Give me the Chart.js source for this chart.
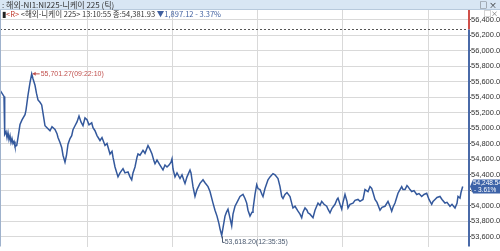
<!DOCTYPE html>
<html>
<head>
<meta charset="utf-8">
<script src="https://cdn.jsdelivr.net/npm/chart.js@4/dist/chart.umd.min.js"></script>
<style>
	body { margin: 0; background: #fff; }
	#wrap { position: relative; width: 500px; height: 251px; overflow: hidden; font-family: "Noto Sans CJK KR", "Liberation Sans", sans-serif; }
	#bar { position: absolute; left: 0; top: 0; width: 500px; height: 9px; background: #d8e6f4; border-bottom: 1px solid #b7c9dc; font-size: 8px; line-height: 9px; color: #333; }
	#bar .t { position: absolute; left: 2px; top: 0; white-space: nowrap; }
	#bar .i { position: absolute; right: 3px; top: 0; font-size: 8px; color: #222; }
	#info { position: absolute; left: 2px; top: 9px; font-size: 7.5px; line-height: 9px; white-space: nowrap; color: #333; }
	#info .r { color: #c0392b; }
	#info .b { color: #3f5f9f; }
	#sub { position: absolute; right: 2px; top: 9px; font-size: 7px; line-height: 8px; color: #666; }
	canvas { position: absolute; left: 0; top: 0; }
</style>
</head>
<body>
<div id="wrap">
	<canvas id="cntx_nikkei" width="500" height="251"></canvas>
	<div id="bar"><span class="t">: 해외-NI1:NI225-니케이 225 (틱)</span><span class="i">□ ×</span></div>
	<div id="info"><span style="color:#222">▮</span><span class="r">&lt;R&gt;</span> &lt;해외-니케이 225&gt; 13:10:55 종:54,381.93 <span class="b">▼1,897.12 - 3.37%</span></div>
	<div id="sub">□×</div>
</div>
<script>
// tick sequence (x) and price (y)
const tickNo = [
	0, 4, 4.7, 6, 7, 8, 9, 10, 11, 12, 13, 14, 15, 16.7, 18, 20, 22, 25, 26, 28, 30, 31.7,
	33, 35, 36.5, 38, 40, 41.7, 43, 45, 47, 50, 52, 55, 57, 58, 60, 61.7, 63, 65, 66.5, 68,
	70, 71.7, 73, 75, 77, 79, 81, 83, 85, 87, 89, 91.7, 93,
	95, 97, 100, 102, 105, 107, 110, 112, 113, 115, 118, 120, 123, 125, 128, 130, 131.7, 133,
	135, 137, 138, 140, 143, 145, 148, 150, 152, 154, 155, 157, 160, 163, 165, 167, 169, 171,
	172, 173, 175, 177, 180, 182, 184, 185, 187, 190,
	191, 193, 195, 197, 200, 203, 205, 208, 210, 213, 215, 217, 219, 220, 221.7, 223, 225,
	226.5, 228, 230, 231.7, 233, 235, 237, 240, 243, 245, 246.7, 248, 250, 252, 253, 255,
	256.7, 258, 260, 262, 263, 265, 268, 270, 273, 275, 278, 280, 281.7, 283, 285,
	287, 290, 292, 293, 295, 298, 300, 301.7, 303, 305, 307, 308, 310, 313, 315, 318, 320,
	321.7, 324, 326.7, 328, 330, 332, 335, 337, 338, 340, 341.7, 343, 345, 347, 348, 350,
	353, 355, 358, 360, 363, 365, 368, 370, 371.7, 373, 375, 377, 380,
	382, 385, 388, 390, 391.7, 393, 395, 397, 398, 400, 401.7, 403, 405, 407, 408, 410,
	411.7, 414, 416.7, 419, 421.7, 424, 426.7, 429, 431.7, 433, 435, 437, 440, 442, 445,
	447, 450, 452, 455, 457, 458, 460, 461, 462.7
];
const price = [
	55491, 55411, 54922, 54956, 54880, 54943, 54854, 54905, 54816, 54867, 54804, 54829, 54766, 54778, 54880, 55048, 55108, 55175, 55234, 55428, 55589, 55701.27,
	55639, 55554, 55449, 55365, 55335, 55301, 55196, 55032, 55006, 54968, 55019, 54985, 54930, 54880, 54816, 54753, 54652, 54563, 54652, 54795,
	54867, 54905, 54981, 55032, 55082, 55158, 55082, 55032, 55133, 55111, 55044, 55070, 55006,
	54968, 54905, 54842, 54880, 54778, 54804, 54668, 54703, 54627, 54500, 54373, 54424, 54479, 54424, 54437, 54373, 54335, 54424,
	54500, 54627, 54668, 54652, 54715, 54677, 54778, 54728, 54668, 54576, 54542, 54589, 54525, 54462, 54525, 54500, 54525, 54563,
	54605, 54475, 54373, 54424, 54352, 54399, 54323, 54289, 54373, 54462,
	54424, 54247, 54120, 54209, 54289, 54335, 54297, 54247, 54184, 54035, 53943, 53867, 53766, 53703, 53618.2, 53715, 53867,
	53918, 53956, 53842, 53741, 53892, 53994, 54044, 54120, 54146, 54095, 54035, 53943, 53867, 53918, 53956, 54146,
	54272, 54222, 54209, 54146, 54120, 54222, 54335, 54373, 54415, 54399, 54352, 54247, 54120, 54095, 54146,
	54171, 54120, 54019, 53972, 53994, 53930, 53892, 53846, 53918, 53972, 53943, 53909, 53892, 53846, 53943, 54035, 54006,
	54057, 54019, 53994, 53956, 53909, 53968, 54019, 54082, 54099, 54019, 53956, 54044, 54146, 54057, 53972, 54019,
	54035, 54070, 54082, 54057, 54082, 54209, 54184, 54247, 54225, 54171, 54082, 54044, 53943,
	53981, 53994, 54057, 53994, 53930, 53981, 54035, 54120, 54162, 54209, 54247, 54209, 54209, 54260, 54247, 54209,
	54184, 54196, 54146, 54158, 54120, 54146, 54162, 54082, 54019, 54057, 54082, 54108, 54120, 54082, 54035,
	54044, 53994, 54019, 53972, 54032, 54120, 54099, 54171, 54248.54
];
const prevClose = 56279.05;
const highLabel = "55,701.27(09:22:10)";
const lowLabel = "53,618.20(12:35:35)";
const lastLabel = ["54,248.54", "- 3.61%"];
const timeGrid = [87, 172, 257, 342, 428];
const yMin = 53475, yMax = 56525, yStep = 200;

const fmt = (v) => v.toLocaleString("en-US", { minimumFractionDigits: 2, maximumFractionDigits: 2 });

const overlay = {
	id: "overlay",
	afterDatasetsDraw: (chart) => {
		const ctx = chart.ctx;
		const xs = chart.scales.x, ys = chart.scales.y;
		const area = chart.chartArea;
		ctx.save();
		// previous close line
		let yc = Math.round(ys.getPixelForValue(prevClose)) + 0.5;
		ctx.strokeStyle = "#555";
		ctx.lineWidth = 1;
		ctx.setLineDash([2, 2]);
		ctx.beginPath();
		ctx.moveTo(area.left, yc);
		ctx.lineTo(area.right, yc);
		ctx.stroke();
		ctx.setLineDash([]);
		// left border
		ctx.strokeStyle = "#9fb2cc";
		ctx.beginPath();
		ctx.moveTo(0.5, area.top);
		ctx.lineTo(0.5, area.bottom);
		ctx.stroke();
		// right axis line, red above prev close, blue below
		ctx.lineWidth = 2;
		ctx.strokeStyle = "#d0504a";
		ctx.beginPath();
		ctx.moveTo(area.right + 1, area.top);
		ctx.lineTo(area.right + 1, yc);
		ctx.stroke();
		ctx.strokeStyle = "#4a6aa8";
		ctx.beginPath();
		ctx.moveTo(area.right + 1, yc);
		ctx.lineTo(area.right + 1, area.bottom);
		ctx.stroke();

		// high marker
		let hi = price.indexOf(Math.max(...price));
		let hx = xs.getPixelForValue(tickNo[hi]), hy = ys.getPixelForValue(price[hi]);
		ctx.strokeStyle = "#c0504d";
		ctx.fillStyle = "#c0504d";
		ctx.lineWidth = 1;
		ctx.beginPath();
		ctx.moveTo(hx + 1, hy);
		ctx.lineTo(hx + 8, hy);
		ctx.stroke();
		ctx.beginPath();
		ctx.moveTo(hx + 1, hy);
		ctx.lineTo(hx + 4, hy - 2);
		ctx.lineTo(hx + 4, hy + 2);
		ctx.fill();
		ctx.font = "7px 'Liberation Sans', sans-serif";
		ctx.textBaseline = "middle";
		ctx.fillText(highLabel, hx + 9, hy);

		// low marker
		let lo = price.indexOf(Math.min(...price));
		let lx = xs.getPixelForValue(tickNo[lo]), ly = ys.getPixelForValue(price[lo]);
		ctx.strokeStyle = "#4b5a70";
		ctx.fillStyle = "#4b5a70";
		ctx.beginPath();
		ctx.moveTo(Math.round(lx) + 0.5, ly + 1);
		ctx.lineTo(Math.round(lx) + 0.5, ly + 7);
		ctx.lineTo(lx + 3, ly + 7);
		ctx.stroke();
		ctx.fillText(lowLabel, lx + 3, ly + 7);

		// last price box
		let py = ys.getPixelForValue(price[price.length - 1]);
		let bx = area.right + 2;
		ctx.fillStyle = "#3d63a8";
		ctx.beginPath();
		ctx.moveTo(bx, py);
		ctx.lineTo(bx + 3, py - 7);
		ctx.lineTo(500, py - 7);
		ctx.lineTo(500, py + 7);
		ctx.lineTo(bx + 3, py + 7);
		ctx.closePath();
		ctx.fill();
		ctx.fillStyle = "#fff";
		ctx.font = "6.5px 'Liberation Sans', sans-serif";
		ctx.fillText(lastLabel[0], bx + 3, py - 3);
		ctx.fillText(lastLabel[1], bx + 4, py + 3.5);
		ctx.restore();
	},
};

const drawChart = (canvas) => {
	return new Chart(canvas, {
		type: "line",
		data: {
			datasets: [
				{
					data: tickNo.map((t, i) => ({ x: t, y: price[i] })),
					borderColor: "#33589c",
					borderWidth: 1.5,
					pointRadius: 0,
					tension: 0,
				},
			],
		},
		options: {
			responsive: false,
			animation: false,
			layout: { padding: { top: 10, left: 0, right: 0, bottom: 0 } },
			plugins: {
				legend: { display: false },
				tooltip: { enabled: false },
			},
			scales: {
				x: {
					type: "linear",
					min: 0,
					max: 468,
					afterBuildTicks: (scale) => {
						scale.ticks = timeGrid.map((v) => ({ value: v }));
					},
					afterFit: (scale) => {
						scale.height = 0;
					},
					ticks: { display: false },
					border: { display: false },
					grid: { color: "#d9d9d9", borderDash: [2, 2], drawTicks: false },
				},
				y: {
					position: "right",
					min: yMin,
					max: yMax,
					afterFit: (scale) => {
						scale.width = 32;
					},
					border: { display: false },
					grid: {
						color: "#d9d9d9",
						borderDash: [2, 2],
						tickLength: 3,
						tickColor: "#555",
						tickBorderDash: [],
					},
					ticks: {
						stepSize: yStep,
						includeBounds: false,
						padding: 0,
						color: "#333",
						font: { family: "'Liberation Sans', sans-serif", size: 7.5 },
						callback: (v) => fmt(v),
					},
				},
			},
		},
		plugins: [overlay],
	});
};
drawChart(document.querySelector("#cntx_nikkei"));
</script>
</body>
</html>
